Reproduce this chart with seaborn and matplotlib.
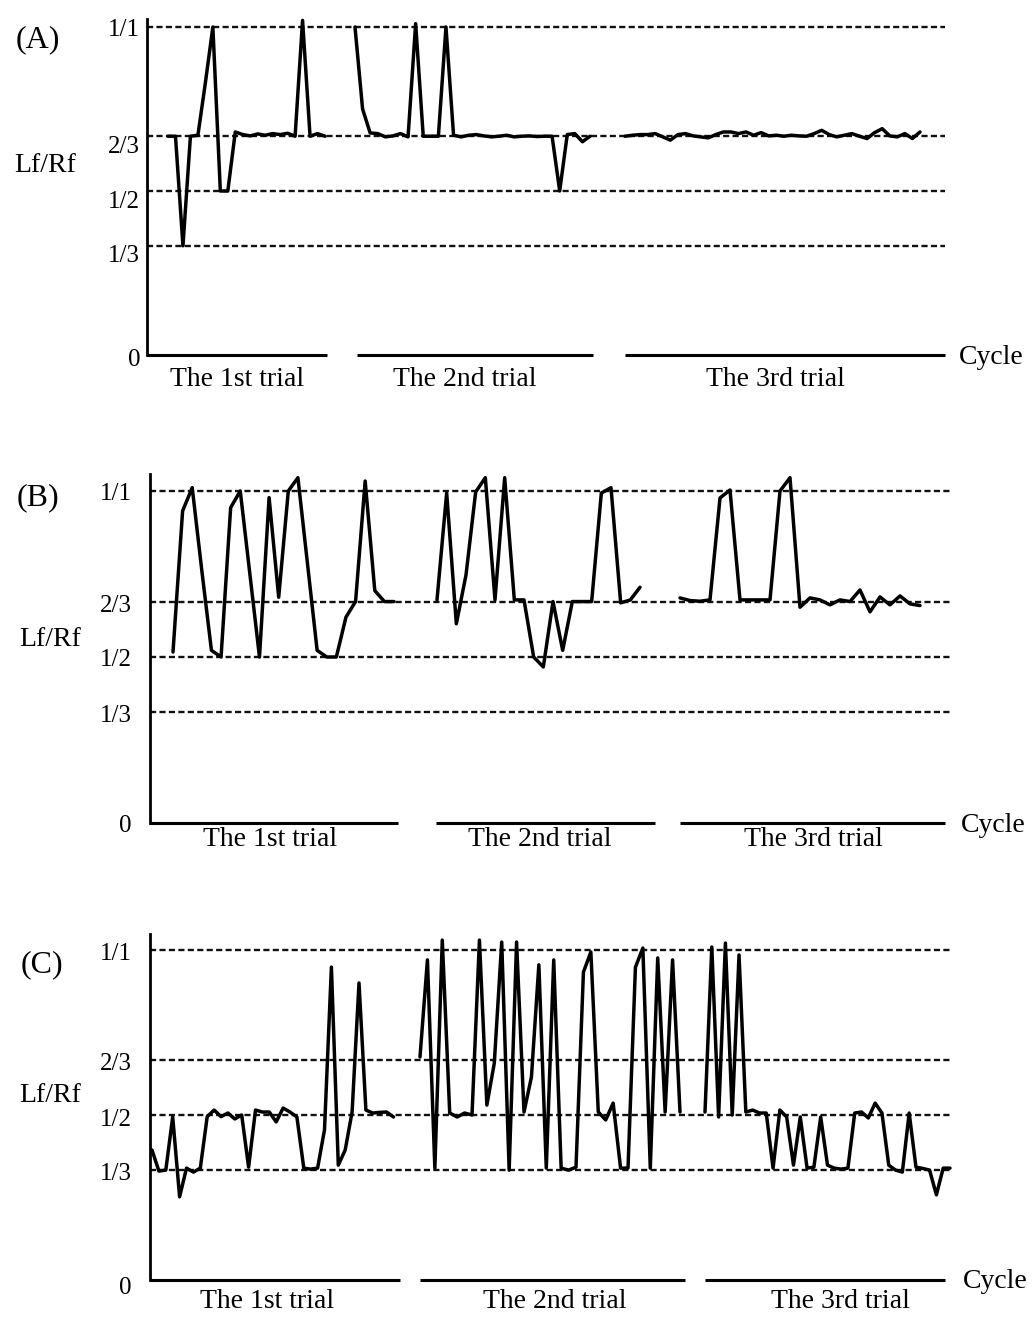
import numpy as np
import pandas as pd
import matplotlib
matplotlib.use("Agg")
import matplotlib.pyplot as plt
import seaborn as sns
from matplotlib.transforms import ScaledTranslation

# ---------------- data (Lf/Rf ratio per cycle) ----------------
A_trial1 = [0.667, 0.667, 0.333, 0.667, 0.670, 0.83, 1.0, 0.5, 0.5, 0.68, 0.672, 0.668,
            0.674, 0.67, 0.675, 0.672, 0.676, 0.667, 1.02, 0.667, 0.675, 0.667]
A_trial2 = [1.0, 0.75, 0.677, 0.675, 0.665, 0.668, 0.675, 0.665, 1.01, 0.667, 0.667, 0.667,
            1.0, 0.67, 0.665, 0.67, 0.672, 0.668, 0.665, 0.667, 0.67, 0.665, 0.667, 0.668,
            0.666, 0.667, 0.667, 0.5, 0.672, 0.675, 0.65, 0.667]
A_trial3 = [0.667, 0.670, 0.672, 0.672, 0.675, 0.665, 0.655, 0.672, 0.675, 0.668,
            0.665, 0.662, 0.672, 0.68, 0.68, 0.675, 0.68, 0.67, 0.678, 0.668,
            0.67, 0.667, 0.67, 0.668, 0.667, 0.675, 0.685, 0.672, 0.665, 0.67,
            0.675, 0.667, 0.66, 0.678, 0.69, 0.668, 0.665, 0.675, 0.66, 0.68]

B_trial1 = [0.515, 0.94, 1.01, 0.76, 0.52, 0.5, 0.95, 1.0, 0.75, 0.5, 0.98, 0.68,
            1.0, 1.04, 0.78, 0.52, 0.5, 0.5, 0.62, 0.667, 1.03, 0.7, 0.667, 0.667]
B_trial2 = [0.672, 0.994, 0.60, 0.747, 0.997, 1.04, 0.672, 1.04, 0.672, 0.672, 0.5,
            0.47, 0.667, 0.52, 0.667, 0.667, 0.667, 0.994, 1.01, 0.663, 0.672, 0.71]
B_trial3 = [0.678, 0.67, 0.668, 0.672, 0.979, 1.003, 0.672, 0.672, 0.672, 0.672,
            1.0, 1.04, 0.65, 0.678, 0.672, 0.657, 0.672, 0.667, 0.702, 0.636,
            0.681, 0.657, 0.684, 0.66, 0.655]

C_trial1 = [0.394, 0.33, 0.333, 0.494, 0.252, 0.339, 0.327, 0.339, 0.495, 0.515,
            0.495, 0.506, 0.488, 0.5, 0.342, 0.515, 0.509, 0.509, 0.479, 0.521,
            0.509, 0.494, 0.339, 0.336, 0.339, 0.455, 0.948, 0.348, 0.394, 0.509,
            0.9, 0.515, 0.506, 0.508, 0.509, 0.494]
C_trial2 = [0.676, 0.97, 0.339, 1.03, 0.506, 0.494, 0.506, 0.5, 1.03, 0.53, 0.657,
            1.024, 0.333, 1.024, 0.509, 0.615, 0.955, 0.339, 0.97, 0.339, 0.333,
            0.342, 0.933, 0.994, 0.509, 0.485, 0.536, 0.339, 0.339, 0.948, 1.006,
            0.339, 0.976, 0.509, 0.97, 0.509]
C_trial3 = [0.509, 1.009, 0.494, 1.021, 0.5, 0.985, 0.509, 0.515, 0.506, 0.506,
            0.339, 0.515, 0.494, 0.348, 0.494, 0.339, 0.342, 0.494, 0.348, 0.339,
            0.336, 0.339, 0.506, 0.509, 0.491, 0.536, 0.506, 0.348, 0.333, 0.327,
            0.506, 0.342, 0.338, 0.333, 0.258, 0.339, 0.339]

TICK_VALUES = [0, 1/3, 1/2, 2/3, 1]
TICK_LABELS = ["0", "1/3", "1/2", "2/3", "1/1"]
GRID_VALUES = [1/3, 1/2, 2/3, 1]
TRIAL_LABELS = ["The 1st trial", "The 2nd trial", "The 3rd trial"]
PANEL_LABELS = ["(A)", "(B)", "(C)"]
Y_LABEL = "Lf/Rf"
X_LABEL = "Cycle"
PANEL_DATA = [[A_trial1, A_trial2, A_trial3],
              [B_trial1, B_trial2, B_trial3],
              [C_trial1, C_trial2, C_trial3]]

# ---------------- layout (pixels of a 1034x1320 canvas) ----------------
W, H = 1034, 1320
LAYOUT = [
    dict(sx=147, right=945, y0=355, y1=27, top=1.025,
         spans=[(168, 325), (355, 590), (625, 920)],
         segs=[(147, 327), (357, 593), (625, 945)],
         tlab_x=[237, 465, 775], tlab_y=379,
         panel_xy=(38, 40), ylab_xy=(45, 165), cycle_xy=(991, 357),
         pad=5, yoff={"0": -2, "1/3": -8, "1/2": -8, "2/3": -8, "1/1": 0}),
    dict(sx=150, right=950, y0=823, y1=491, top=1.05,
         spans=[(173, 394), (437, 640), (680, 920)],
         segs=[(150, 398), (436, 655), (680, 945)],
         tlab_x=[270, 540, 813], tlab_y=840,
         panel_xy=(38, 498), ylab_xy=(50, 640), cycle_xy=(993, 825),
         pad=13, yoff={"0": 0, "1/3": -1, "1/2": -1, "2/3": -2, "1/1": -1}),
    dict(sx=150, right=952, y0=1280, y1=950, top=1.05,
         spans=[(152, 393.5), (420, 680), (705, 950)],
         segs=[(150, 400), (420, 685), (705, 945)],
         tlab_x=[267, 555, 840], tlab_y=1301,
         panel_xy=(42, 965), ylab_xy=(50, 1095), cycle_xy=(995, 1282),
         pad=13, yoff={"0": -5, "1/3": -2, "1/2": -2, "2/3": -2, "1/1": -2}),
]

sns.set_theme(style="white")
plt.rcParams["font.family"] = ["Liberation Serif", "DejaVu Serif"]
plt.rcParams["axes.linewidth"] = 1.6

fig = plt.figure(figsize=(W / 100, H / 100), dpi=100)
fig.patch.set_facecolor("white")

def fx(px):
    return px / W

def fy(py):
    return 1 - py / H

for trials, L, plabel in zip(PANEL_DATA, LAYOUT, PANEL_LABELS):
    unit = (L["y0"] - L["y1"])
    ax = fig.add_axes([fx(L["sx"]), fy(L["y0"]),
                       (L["right"] - L["sx"]) / W, L["top"] * unit / H])
    ax.set_xlim(L["sx"], L["right"])
    ax.set_ylim(0, L["top"])
    ax.set_facecolor("none")

    rows = []
    for k, (vals, (a, b)) in enumerate(zip(trials, L["spans"])):
        xs = np.linspace(a, b, len(vals))
        rows.append(pd.DataFrame({"x": xs, "ratio": vals, "trial": k}))
    df = pd.concat(rows, ignore_index=True)

    for g in GRID_VALUES:
        ax.axhline(g, color="#111111", lw=1.7, linestyle=(0, (2.6, 1.4)), zorder=1)

    sns.lineplot(data=df, x="x", y="ratio", units="trial", estimator=None,
                 sort=False, color="black", linewidth=2.5, legend=False, ax=ax,
                 zorder=3)
    for line in ax.lines:
        line.set_clip_on(False)

    # broken x axis: one segment per trial
    for a, b in L["segs"]:
        ax.plot([a, b], [0, 0], color="black", lw=2.2, clip_on=False,
                solid_capstyle="butt", zorder=2)

    for s in ["top", "right", "bottom"]:
        ax.spines[s].set_visible(False)
    ax.spines["left"].set_color("black")
    ax.spines["left"].set_linewidth(2.0)

    ax.set_xticks([])
    ax.set_yticks(TICK_VALUES)
    ax.set_yticklabels(TICK_LABELS, fontsize=18, color="black")
    ax.tick_params(axis="y", length=0, pad=L["pad"])
    for lab in ax.get_yticklabels():
        dy = L["yoff"].get(lab.get_text(), 0)
        lab.set_transform(lab.get_transform() +
                          ScaledTranslation(0, dy / 100, fig.dpi_scale_trans))
    ax.set_xlabel("")
    ax.set_ylabel("")

    for txt, tx in zip(TRIAL_LABELS, L["tlab_x"]):
        fig.text(fx(tx), fy(L["tlab_y"]), txt, ha="center", va="center",
                 fontsize=20, color="black")
    fig.text(fx(L["panel_xy"][0]), fy(L["panel_xy"][1]), plabel, ha="center",
             va="center", fontsize=23, color="black")
    fig.text(fx(L["ylab_xy"][0]), fy(L["ylab_xy"][1]), Y_LABEL, ha="center",
             va="center", fontsize=20, color="black")
    fig.text(fx(L["cycle_xy"][0]), fy(L["cycle_xy"][1]), X_LABEL, ha="center",
             va="center", fontsize=20, color="black")

fig.savefig("out.png", dpi=100, facecolor="white")
